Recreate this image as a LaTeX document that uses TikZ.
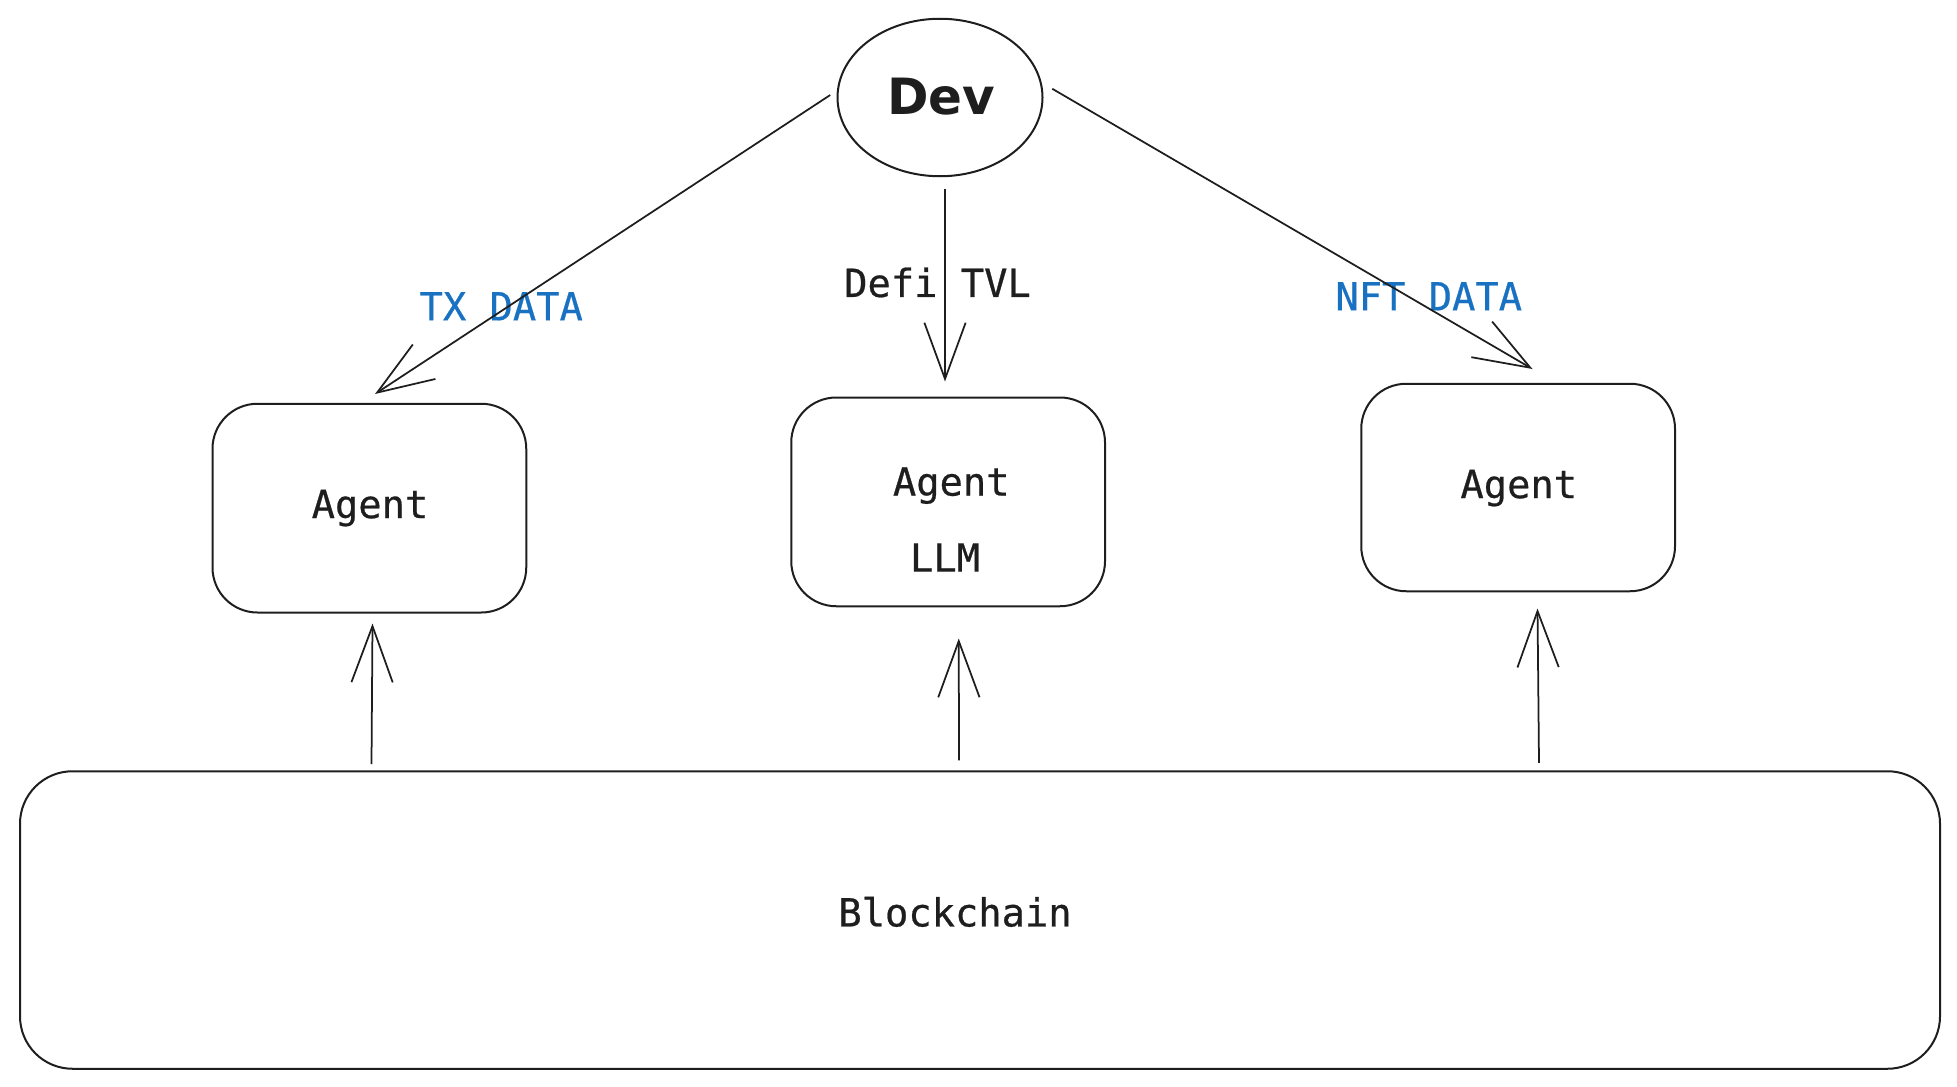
\documentclass[tikz,border=0pt]{standalone}
\usepackage{fontspec}
\newfontfamily\monofnt[FakeBold=0.6]{DejaVu Sans Mono}
\newfontfamily\handfnt{DejaVu Sans}
\usetikzlibrary{arrows.meta,shapes.geometric,positioning}
\definecolor{ink}{HTML}{1E1E1E}
\definecolor{exblue}{HTML}{1971C2}
\tikzset{
  boxstyle/.style={draw=ink, line width=1.6pt, rounded corners=36pt, minimum width=251pt, minimum height=167pt, inner sep=0pt, text=ink, font=\monofnt\fontsize{31}{37}\selectfont},
  devstyle/.style={ellipse, draw=ink, line width=1.6pt, minimum width=164pt, minimum height=126pt, inner sep=0pt, text=ink, font=\handfnt\bfseries\fontsize{40}{46}\selectfont},
  txt/.style={inner sep=0pt, text=ink, font=\monofnt\fontsize{31}{37}\selectfont},
  bluetxt/.style={txt, text=exblue},
  arr/.style={draw=ink, line width=1.4pt, -{Straight Barb[length=45pt,width=33pt,line width=1.4pt]}}
}
\begin{document}
\begin{tikzpicture}[x=1pt,y=-1pt]
\useasboundingbox (0,0) rectangle (1565.6,869.6);
\node[devstyle] (dev) at (752,78) {};
\node[inner sep=0pt, text=ink, font=\handfnt\bfseries\fontsize{40}{46}\selectfont] (devtxt) at (753,77) {Dev};
\node[boxstyle] (a1) at (295.5,406.5) {};
\node[txt] (a1t) at (296,406.5) {Agent};
\node[boxstyle] (a2) at (758.5,401.5) {};
\node[txt] (a2t) at (761,388.5) {Agent};
\node[txt] (a2l) at (756,446) {LLM};
\node[boxstyle, minimum height=166pt] (a3) at (1214.5,390) {};
\node[txt] (a3t) at (1215,390.5) {Agent};
\node[boxstyle, rounded corners=42pt, minimum width=1536pt, minimum height=238pt] (bc) at (784,736) {};
\node[txt] (bct) at (764,729.5) {Blockchain};
\node[bluetxt] (lab1) at (401,245) {TX DATA};
\node[txt] (lab2) at (750,226) {Defi TVL};
\node[bluetxt] (lab3) at (1143,237) {NFT DATA};
% Dev to agents
\draw[arr] ([shift={(-5,-2)}]dev.west) -- ([shift={(4.5,-7)}]a1.north);
\draw[arr] ([shift={(4,9)}]dev.south) -- ([shift={(-2.5,-12)}]a2.north);
\draw[arr] ([shift={(7,-7)}]dev.east) -- ([shift={(11.5,-11)}]a3.north);
% Blockchain to agents
\draw[arr] ([shift={(282,-5)}]bc.north west) -- ([shift={(2.5,8)}]a1.south);
\draw[arr] ([shift={(752,-8)}]bc.north west) -- ([shift={(8.5,25)}]a2.south);
\draw[arr] ([shift={(1216,-6)}]bc.north west) -- ([shift={(15.5,13)}]a3.south);
\end{tikzpicture}
\end{document}
